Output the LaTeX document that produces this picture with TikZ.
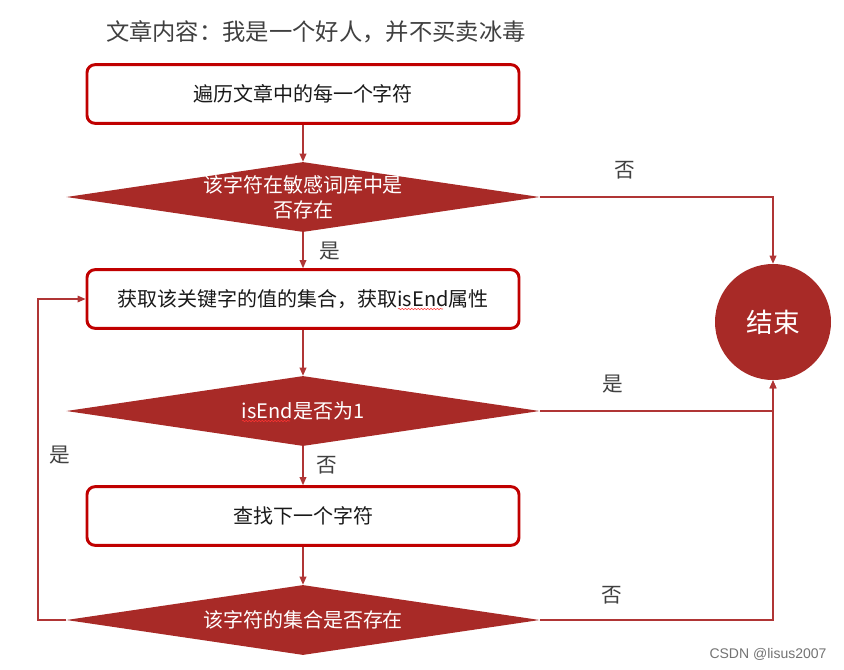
\documentclass[tikz,border=0pt]{standalone}
\usepackage{fontspec}
\setmainfont{Noto Sans CJK SC}
\newfontfamily\wmfont{Liberation Sans}
\usetikzlibrary{shapes.geometric,arrows.meta,decorations.pathmorphing}
\definecolor{boxred}{HTML}{C00000}
\definecolor{fillred}{HTML}{A82A27}
\definecolor{linered}{HTML}{B03535}
\definecolor{txtgray}{HTML}{404040}
\tikzset{
  procbox/.style={draw=boxred, line width=2.2pt, rounded corners=6pt, fill=white,
    minimum width=324pt, minimum height=44pt, font=\fontsize{15}{18}\selectfont, text=black!90},
  decision/.style={diamond, fill=fillred, aspect=6.77, minimum width=355pt,
    minimum height=52.5pt, inner sep=0pt},
  dtext/.style={text=white, align=center, font=\fontsize{15}{19}\selectfont},
  endnode/.style={circle, fill=fillred, minimum size=87pt, inner sep=0pt, text=white,
    font=\fontsize{20}{24}\selectfont},
  arr/.style={-{Triangle[length=6pt,width=5pt]}, linered, line width=0.9pt},
  lbl/.style={text=txtgray, font=\fontsize{15.5}{18}\selectfont},
  squiggle/.style={red!80, line width=0.4pt, decorate,
    decoration={snake, segment length=2.4pt, amplitude=0.5pt}},
}

\begin{document}
\begin{tikzpicture}[x=0.75pt, y=-0.75pt]
\useasboundingbox (0,0) rectangle (844,669);
% title
\node[text=txtgray, font=\fontsize{17.5}{20}\selectfont] (title) at (316,32) {文章内容：我是一个好人，并不买卖冰毒};
% steps
\node[procbox] (b1) at (303,94) {遍历文章中的每一个字符};
\node[decision, label={[dtext]center:该字符在敏感词库中是\\否存在}] (d1) at (303,197) {};
\node[procbox] (b2) at (303,299) {获取该关键字的值的集合，获取isEnd属性};
\node[decision, label={[dtext]center:isEnd是否为1}] (d2) at (303,411) {};
\node[procbox] (b3) at (303,516) {查找下一个字符};
\node[decision, label={[dtext]center:该字符的集合是否存在}] (d3) at (303,620) {};
\node[endnode] (stop) at (773,322) {结束};
\coordinate (back) at (38,620);
% spell-check marks under isEnd
\draw[squiggle] (398,309) -- (443,309);
\draw[squiggle] (242,421) -- (290,421);
% arrows
\draw[arr] (b1) -- (d1);
\draw[arr] (d1) -- (b2);
\draw[arr] (b2) -- (d2);
\draw[arr] (d2) -- (b3);
\draw[arr] (b3) -- (d3);
\draw[arr] (d1.east) -| (stop.north);
\draw[arr] (d2.east) -| (stop.south);
\draw[arr] (d3.east) -| (stop.south);
\draw[arr] (d3.west) -- (back) |- (b2.west);
% labels
\node[lbl] (n1) at (625,170) {否};
\node[lbl] (y1) at (330,251) {是};
\node[lbl] (y2) at (613,384) {是};
\node[lbl] (n2) at (327,465) {否};
\node[lbl] (y3) at (60,455) {是};
\node[lbl] (n3) at (612,595) {否};
\node[text=black!55, font=\wmfont\fontsize{10.5}{12}\selectfont] (wm) at (768,654) {CSDN @lisus2007};
\end{tikzpicture}
\end{document}
